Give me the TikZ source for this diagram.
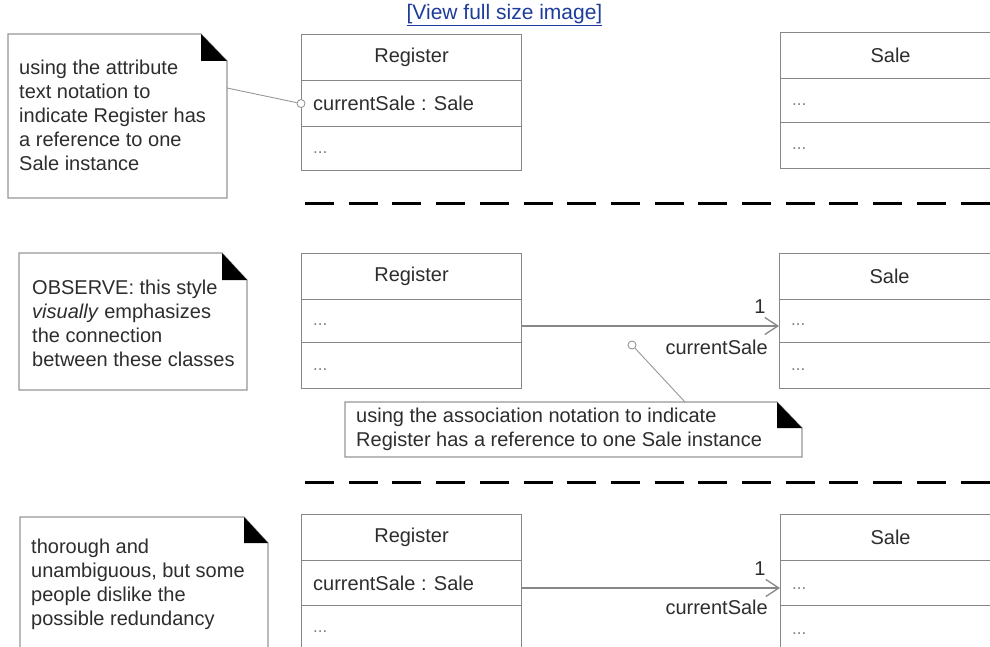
\documentclass[tikz,border=0pt]{standalone}
\usepackage{fontspec}
\setmainfont{Liberation Sans}
\usetikzlibrary{arrows.meta}
\definecolor{boxline}{RGB}{135,135,135}
\definecolor{noteline}{RGB}{150,150,150}
\definecolor{txt}{RGB}{45,45,45}
\definecolor{linkblue}{RGB}{30,60,155}
\newcommand\dfont{\fontsize{20}{24}\selectfont}
\newcommand\umlnote[6]{%
  \draw[draw=noteline,line width=1.1pt,fill=white] (#1,#2) -- (#5,#2) -- (#3,#6) -- (#3,#4) -- (#1,#4) -- cycle;
  \fill[black] (#5,#2) -- (#5,#6) -- (#3,#6) -- cycle;}
\tikzset{
  comp/.style={draw=boxline,line width=1.1pt,minimum width=220pt,anchor=north west,inner sep=0pt,font=\dfont,text=txt},
  attr/.style={anchor=west,inner sep=0pt,font=\dfont,text=txt},
  dots/.style={anchor=base west,inner sep=0pt,font=\fontsize{17}{17}\selectfont,text=gray},
  notetext/.style={anchor=west,inner sep=0pt,align=left,font=\dfont,text=txt},
  lbl/.style={inner sep=0pt,font=\dfont,text=txt},
  anchorcirc/.style={circle,draw=noteline,fill=white,line width=0.9pt,minimum size=8pt,inner sep=0pt},
  notelink/.style={draw=noteline,line width=0.9pt},
  assoc/.style={draw=boxline,line width=1.3pt,-{Straight Barb[length=13pt,width=17pt,line width=1.3pt]}},
  sep/.style={draw=black,line width=3pt,dash pattern=on 29pt off 14.7pt}
}
\begin{document}
\begin{tikzpicture}[x=1pt,y=-1pt]
\useasboundingbox (0,0) rectangle (990,647);

% link
\node[inner sep=0pt,font=\fontsize{21}{21}\selectfont,text=linkblue] (link) at (504.5,15) {\underline{[View full size image]}};

% ---------- panel 1 ----------
\umlnote{8}{34}{227}{198}{201}{61}
\node[notetext] (n1) at (19,115.5) {using the attribute\\text notation to\\indicate Register has\\a reference to one\\Sale instance};
\coordinate (n1e) at (227,88);

\node[comp,minimum height=46pt] (r1h) at (301,34) {Register};
\node[comp,minimum height=46pt] (r1a) at (301,80) {};
\node[comp,minimum height=44pt] (r1o) at (301,126) {};
\node[attr] (r1at) at ([xshift=12pt]r1a.west) {currentSale : Sale};
\node[dots] (r1ot) at (r1o.west |- 0,154) {\hspace{12pt}...};
\node[anchorcirc] (c1) at (r1a.west) {};
\draw[notelink] (n1e) -- (c1);

\node[comp,minimum height=46pt] (s1h) at (780,32) {Sale};
\node[comp,minimum height=44pt] (s1a) at (780,78) {};
\node[comp,minimum height=46pt] (s1o) at (780,122) {};
\node[dots] (s1at) at (s1a.west |- 0,106) {\hspace{12pt}...};
\node[dots] (s1ot) at (s1o.west |- 0,150) {\hspace{12pt}...};

\coordinate (d1a) at (305,204);
\coordinate (d1b) at (995,204);
\draw[sep] (d1a) -- (d1b);

% ---------- panel 2 ----------
\umlnote{19}{253}{247}{390}{222}{280}
\node[notetext] (n2) at (32,323) {OBSERVE: this style\\\textit{visually} emphasizes\\the connection\\between these classes};

\node[comp,minimum height=46pt] (r2h) at (301,253) {Register};
\node[comp,minimum height=43pt] (r2a) at (301,299) {};
\node[comp,minimum height=46pt] (r2o) at (301,342) {};
\node[dots] (r2at) at (r2a.west |- 0,325) {\hspace{12pt}...};
\node[dots] (r2ot) at (r2o.west |- 0,370) {\hspace{12pt}...};

\node[comp,minimum height=46pt] (s2h) at (779,253) {Sale};
\node[comp,minimum height=43pt] (s2a) at (779,299) {};
\node[comp,minimum height=46pt] (s2o) at (779,342) {};
\node[dots] (s2at) at (s2a.west |- 0,325) {\hspace{12pt}...};
\node[dots] (s2ot) at (s2o.west |- 0,370) {\hspace{12pt}...};

\draw[assoc] (r2a.east |- 0,326) -- (s2a.west |- 0,326);
\node[lbl] (m2) at (760,307) {1};
\node[lbl,anchor=east] (rn2) at (768,347) {currentSale};

\umlnote{345}{402}{802}{457}{777}{428}
\node[notetext] (n3) at (356,429.5) {using the association notation to indicate\\Register has a reference to one Sale instance};
\coordinate (n3t) at (685,402);
\node[anchorcirc] (c2) at (632,345) {};
\draw[notelink] (c2) -- (n3t);

\coordinate (d2a) at (305,482);
\coordinate (d2b) at (995,482);
\draw[sep] (d2a) -- (d2b);

% ---------- panel 3 ----------
\umlnote{20}{517}{268}{670}{244}{543}
\node[notetext] (n4) at (31,584) {thorough and\\unambiguous, but some\\people dislike the\\possible redundancy};

\node[comp,minimum height=46pt] (r3h) at (301,514) {Register};
\node[comp,minimum height=45pt] (r3a) at (301,560) {};
\node[comp,minimum height=46pt] (r3o) at (301,605) {};
\node[attr] (r3at) at ([xshift=12pt]r3a.west) {currentSale : Sale};
\node[dots] (r3ot) at (r3o.west |- 0,632) {\hspace{12pt}...};

\node[comp,minimum height=46pt] (s3h) at (780,514) {Sale};
\node[comp,minimum height=45pt] (s3a) at (780,560) {};
\node[comp,minimum height=46pt] (s3o) at (780,605) {};
\node[dots] (s3at) at (s3a.west |- 0,589) {\hspace{12pt}...};
\node[dots] (s3ot) at (s3o.west |- 0,634) {\hspace{12pt}...};

\draw[assoc] (r3a.east |- 0,588) -- (s3a.west |- 0,588);
\node[lbl] (m3) at (760,569) {1};
\node[lbl,anchor=east] (rn3) at (768,607) {currentSale};
\end{tikzpicture}
\end{document}
